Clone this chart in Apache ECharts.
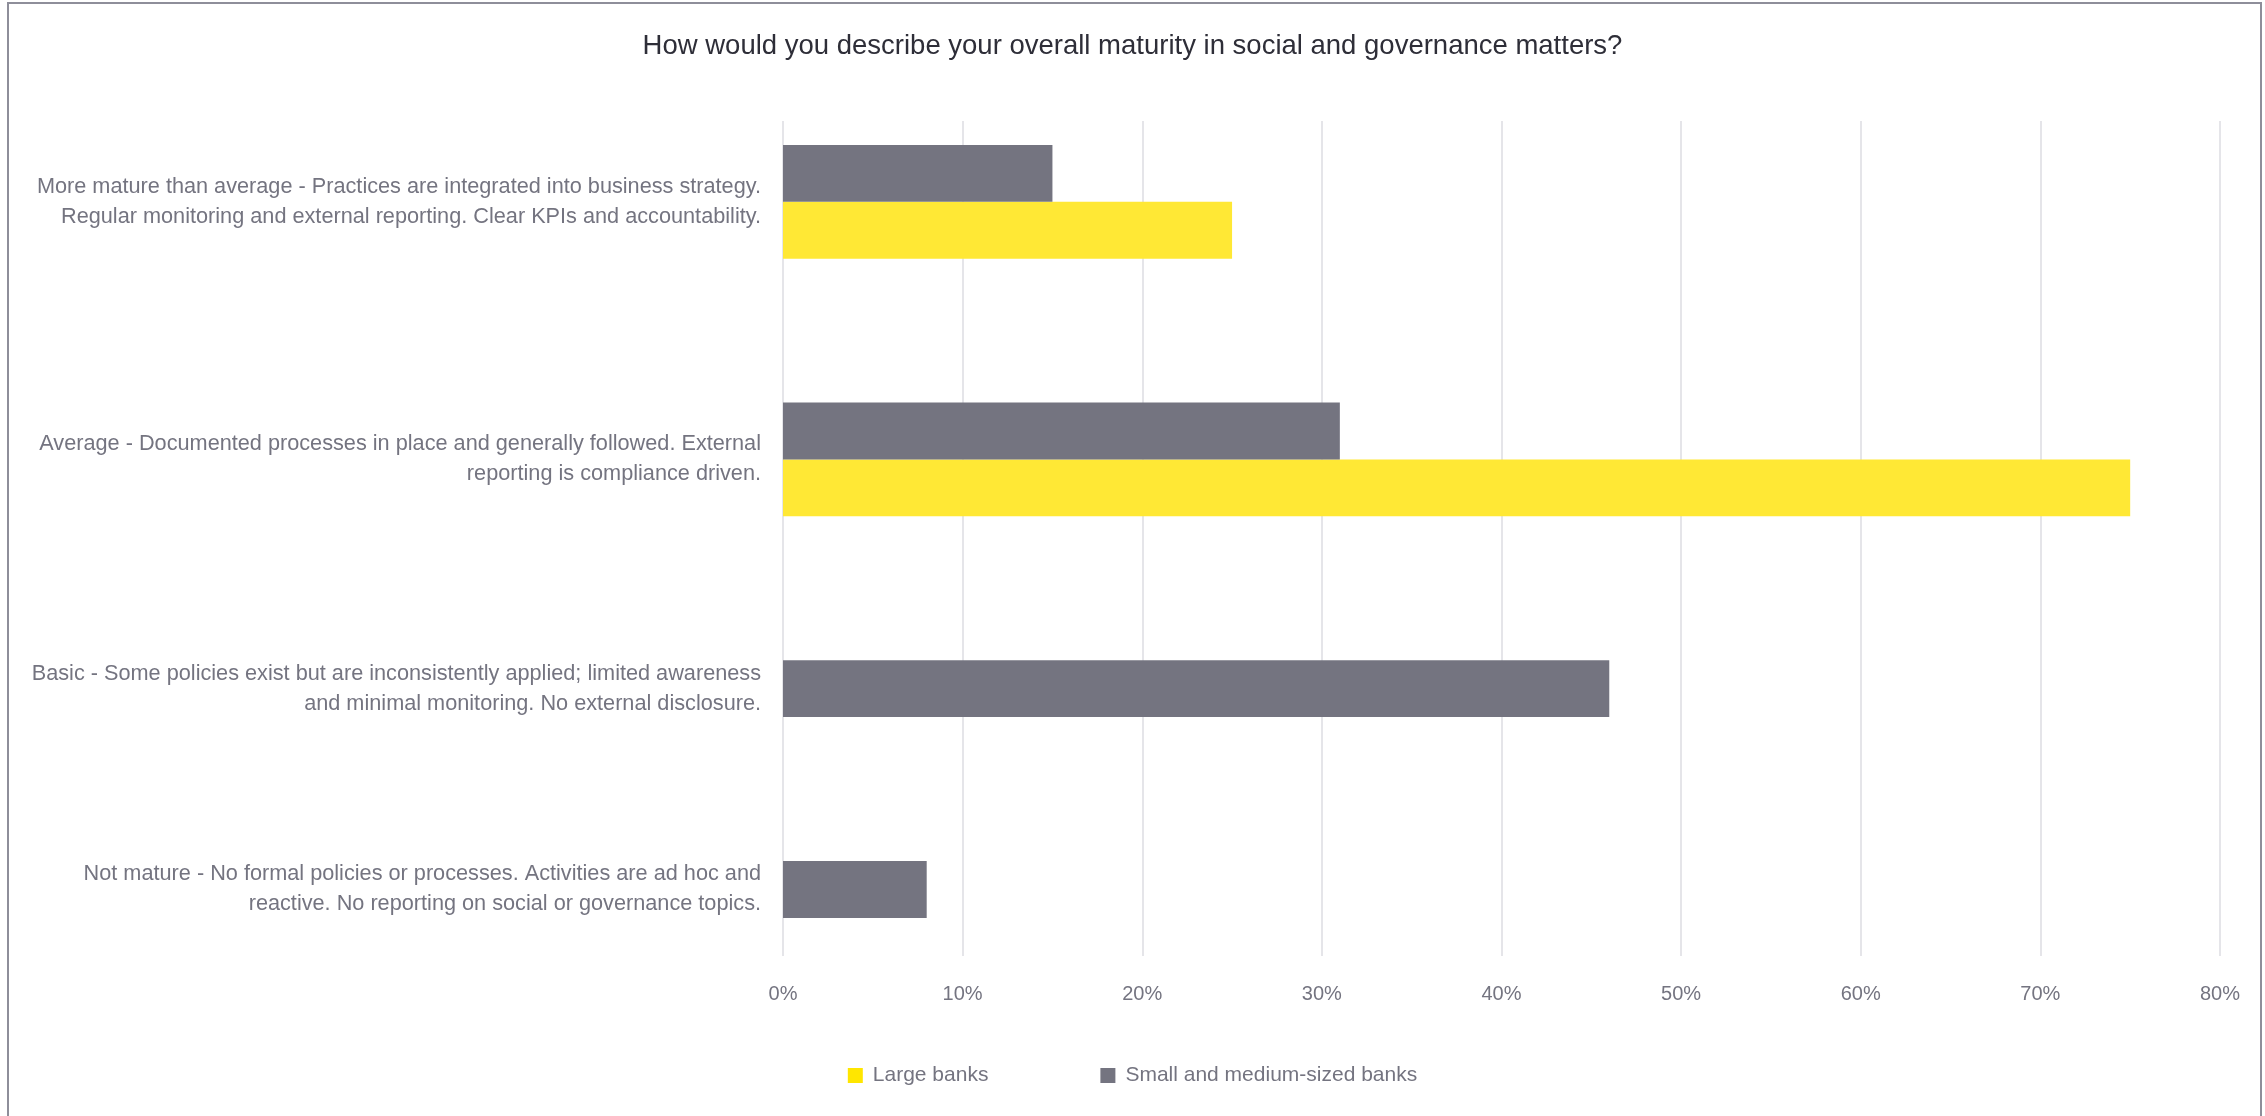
<!DOCTYPE html>
<html>
<head>
<meta charset="utf-8">
<script src="https://cdn.jsdelivr.net/npm/echarts@6/dist/echarts.min.js"></script>
<style>
  html, body { margin: 0; padding: 0; background: #ffffff; }
  #chart { width: 2265px; height: 1116px; }
</style>
</head>
<body>
<div id="chart"></div>
<script>
// ---- data ----
const titleText = 'How would you describe your overall maturity in social and governance matters?';
const categories = [
  'More mature than average - Practices are integrated into business strategy.\nRegular monitoring and external reporting. Clear KPIs and accountability.',
  'Average - Documented processes in place and generally followed. External\nreporting is compliance driven.',
  'Basic - Some policies exist but are inconsistently applied; limited awareness\nand minimal monitoring. No external disclosure.',
  'Not mature - No formal policies or processes. Activities are ad hoc and\nreactive. No reporting on social or governance topics.'
];
const seriesNames = ['Large banks', 'Small and medium-sized banks'];
const largeBanks = [25, 75, 0, 0];
const smallMediumBanks = [15, 31, 46, 8];
const xTickValues = [0, 10, 20, 30, 40, 50, 60, 70, 80];

// ---- layout (in bar-height units along the vertical axis) ----
const PAD_TOP = 0.42, GROUP_GAP = 2.53, PAD_BOTTOM = 0.67;
const stackOrder = [smallMediumBanks, largeBanks]; // top-to-bottom inside a group
let cursor = PAD_TOP;
const slots = [[], []]; // per stackOrder entry: [value, slotStart]
const centers = [];
categories.forEach((c, i) => {
  const start = cursor;
  stackOrder.forEach((arr, k) => {
    if (arr[i] > 0) { slots[k].push([arr[i], cursor, i]); cursor += 1; }
  });
  centers.push((start + cursor) / 2);
  if (i < categories.length - 1) cursor += GROUP_GAP;
});
const yMax = cursor + PAD_BOTTOM;

const GRAY = '#747480', YELLOW = '#ffe835', TEXT = '#747480';
const FONT = '"Liberation Sans", Arial, sans-serif';

function renderBar(params, api) {
  const v = api.value(0), s = api.value(1);
  const p0 = api.coord([0, s]);
  const p1 = api.coord([v, s + 1]);
  return {
    type: 'rect',
    shape: { x: p0[0], y: Math.min(p0[1], p1[1]), width: p1[0] - p0[0], height: Math.abs(p1[1] - p0[1]) },
    style: api.style()
  };
}

const chart = echarts.init(document.getElementById('chart'), null, { renderer: 'canvas' });
chart.setOption({
  backgroundColor: '#ffffff',
  animation: false,
  textStyle: { fontFamily: FONT },
  title: {
    text: titleText,
    left: 'center',
    top: 27,
    textStyle: { fontFamily: FONT, fontSize: 27.5, fontWeight: 'normal', color: '#2e2e38' }
  },
  legend: {
    data: [
      { name: seriesNames[0], itemStyle: { color: '#ffe600' } },
      { name: seriesNames[1], itemStyle: { color: GRAY } }
    ],
    left: 'center',
    top: 1060,
    icon: 'rect',
    itemWidth: 15,
    itemHeight: 15,
    itemGap: 112,
    textStyle: { fontFamily: FONT, fontSize: 21, color: TEXT, padding: [0, 0, 0, 5] }
  },
  grid: { left: 783, right: 45, top: 121, bottom: 160, containLabel: false },
  xAxis: {
    type: 'value',
    min: xTickValues[0],
    max: xTickValues[xTickValues.length - 1],
    interval: xTickValues[1] - xTickValues[0],
    axisLine: { show: false },
    axisTick: { show: false },
    splitLine: { show: true, lineStyle: { color: '#dcdce2', width: 1.5 } },
    axisLabel: { formatter: '{value}%', color: TEXT, fontSize: 20, margin: 28, fontFamily: FONT }
  },
  yAxis: {
    type: 'value',
    inverse: true,
    min: 0,
    max: yMax,
    axisLine: { show: false },
    axisTick: { show: false },
    splitLine: { show: false },
    axisLabel: {
      customValues: centers,
      formatter: (value) => {
        const idx = centers.findIndex(c => Math.abs(c - value) < 1e-6);
        return idx >= 0 ? categories[idx] : '';
      },
      color: TEXT,
      fontSize: 21.7,
      lineHeight: 30,
      margin: 22,
      align: 'right',
      fontFamily: FONT
    }
  },
  series: [
    {
      name: seriesNames[0],
      type: 'custom',
      renderItem: renderBar,
      itemStyle: { color: YELLOW },
      encode: { x: 0, y: 1 },
      data: slots[1]
    },
    {
      name: seriesNames[1],
      type: 'custom',
      renderItem: renderBar,
      itemStyle: { color: GRAY },
      encode: { x: 0, y: 1 },
      data: slots[0]
    }
  ],
  graphic: [
    {
      type: 'polyline',
      shape: { points: [[8, 1116], [8, 3], [2261, 3], [2261, 1116]] },
      style: { stroke: '#8e8e9a', lineWidth: 2, fill: null },
      silent: true
    }
  ]
});
</script>
</body>
</html>
